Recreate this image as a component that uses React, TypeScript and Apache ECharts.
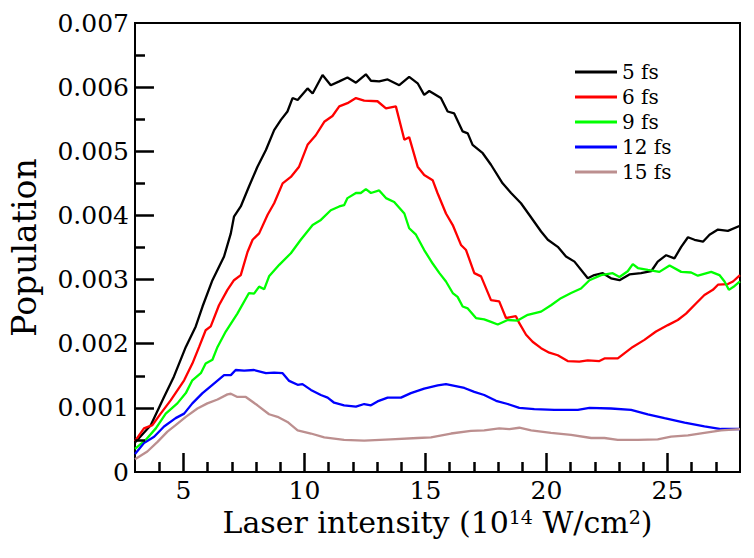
import React, { useEffect, useRef } from "react";
import * as echarts from "echarts";

const seriesNames = ["5 fs", "6 fs", "9 fs", "12 fs", "15 fs"];
const seriesColors = ["#000000", "#ff0000", "#00ff00", "#0000ff", "#bc8f8f"];

const xMin = 3;
const xMax = 28;
const yMin = 0;
const yMax = 0.007;
const xMajorTicks = [5, 10, 15, 20, 25];
const xMinorTicks = [4, 6, 7, 8, 9, 11, 12, 13, 14, 16, 17, 18, 19, 21, 22, 23, 24, 26, 27];
const yMajorTicks = [0.001, 0.002, 0.003, 0.004, 0.005, 0.006];
const yMinorTicks = [0.0005, 0.0015, 0.0025, 0.0035, 0.0045, 0.0055, 0.0065];

const fs5: number[][] = [
  [3.0, 0.00046], [3.65, 0.00073], [4.2, 0.00117], [4.61, 0.00149], [5.1, 0.00195], [5.51, 0.00227],
  [5.79, 0.00258], [6.2, 0.00299], [6.68, 0.00336], [6.96, 0.00372], [7.09, 0.00398], [7.37, 0.00414],
  [7.71, 0.00445], [8.06, 0.00476], [8.41, 0.00502], [8.75, 0.00533], [9.03, 0.00549], [9.3, 0.00562],
  [9.51, 0.00583], [9.72, 0.0058], [10.13, 0.00598], [10.34, 0.0059], [10.75, 0.00619], [11.09, 0.00603],
  [11.44, 0.00609], [11.78, 0.00615], [12.13, 0.00607], [12.54, 0.0062], [12.75, 0.0061], [13.09, 0.00609],
  [13.44, 0.00612], [13.92, 0.00603], [14.33, 0.00616], [14.68, 0.00606], [14.95, 0.00588], [15.16, 0.00594],
  [15.64, 0.00583], [15.92, 0.00562], [16.19, 0.00559], [16.54, 0.00531], [16.75, 0.00528], [16.95, 0.0051],
  [17.37, 0.00497], [17.71, 0.00479], [18.19, 0.0045], [18.54, 0.00435], [18.95, 0.00419], [19.29, 0.00401],
  [19.78, 0.00375], [20.06, 0.00362], [20.47, 0.00351], [20.81, 0.00336], [21.16, 0.00328], [21.71, 0.00302],
  [21.98, 0.00307], [22.33, 0.0031], [22.67, 0.00302], [23.02, 0.00299], [23.43, 0.00308], [23.91, 0.0031],
  [24.33, 0.00313], [24.6, 0.00328], [24.95, 0.00338], [25.29, 0.00333], [25.57, 0.00351], [25.85, 0.00366],
  [26.12, 0.00362], [26.47, 0.00359], [26.74, 0.0037], [27.09, 0.00378], [27.5, 0.00376], [28.0, 0.00384],
];

const fs6: number[][] = [
  [3.0, 0.00048], [3.37, 0.00068], [3.72, 0.00073], [4.06, 0.00091], [4.48, 0.00112], [5.03, 0.00143],
  [5.37, 0.00169], [5.65, 0.00195], [5.92, 0.00221], [6.13, 0.00227], [6.47, 0.0026], [6.82, 0.00284],
  [7.09, 0.00299], [7.37, 0.00307], [7.65, 0.00343], [7.86, 0.00362], [8.13, 0.00372], [8.48, 0.00401],
  [8.75, 0.00419], [9.1, 0.0045], [9.44, 0.0046], [9.78, 0.00476], [10.13, 0.0051], [10.47, 0.00525],
  [10.82, 0.00546], [11.16, 0.00555], [11.44, 0.0057], [11.78, 0.00575], [12.13, 0.00583], [12.47, 0.00579],
  [13.02, 0.00578], [13.37, 0.00567], [13.78, 0.0057], [14.13, 0.00518], [14.33, 0.00522], [14.68, 0.00476],
  [14.95, 0.00463], [15.3, 0.00455], [15.5, 0.00435], [15.85, 0.00403], [16.13, 0.00385], [16.47, 0.00354],
  [16.68, 0.00346], [17.02, 0.0031], [17.3, 0.00305], [17.71, 0.00268], [18.05, 0.00266], [18.33, 0.0024],
  [18.74, 0.00243], [18.88, 0.00232], [19.16, 0.00214], [19.43, 0.00203], [19.78, 0.00193], [20.12, 0.00186],
  [20.47, 0.00182], [20.88, 0.00173], [21.36, 0.00172], [21.71, 0.00174], [22.19, 0.00173], [22.4, 0.00177],
  [22.95, 0.00177], [23.22, 0.00185], [23.57, 0.00195], [24.05, 0.00206], [24.53, 0.00219], [25.02, 0.00229],
  [25.43, 0.00237], [25.77, 0.00247], [26.19, 0.00263], [26.53, 0.00276], [26.88, 0.00284], [27.09, 0.00292],
  [27.5, 0.00293], [27.71, 0.00297], [28.0, 0.00307],
];

const fs9: number[][] = [
  [3.0, 0.00036], [3.44, 0.0005], [3.86, 0.00068], [4.27, 0.00091], [4.75, 0.00107], [5.1, 0.00123],
  [5.37, 0.00143], [5.72, 0.00154], [5.92, 0.00169], [6.2, 0.00175], [6.41, 0.00195], [6.75, 0.00219],
  [7.23, 0.00247], [7.71, 0.00279], [7.92, 0.00278], [8.13, 0.00289], [8.34, 0.00285], [8.54, 0.00305],
  [8.96, 0.00323], [9.44, 0.00341], [9.85, 0.00362], [10.34, 0.00385], [10.68, 0.00393], [11.09, 0.00408],
  [11.44, 0.00414], [11.64, 0.00416], [11.78, 0.00427], [12.13, 0.00435], [12.33, 0.00435], [12.54, 0.00441],
  [12.75, 0.00435], [13.09, 0.00439], [13.37, 0.00427], [13.71, 0.00421], [14.13, 0.00403], [14.33, 0.0038],
  [14.61, 0.0037], [14.95, 0.00346], [15.3, 0.00325], [15.58, 0.0031], [15.85, 0.00297], [16.13, 0.00279],
  [16.33, 0.00273], [16.54, 0.00258], [16.75, 0.00255], [17.09, 0.0024], [17.43, 0.00238], [17.71, 0.00234],
  [17.99, 0.0023], [18.4, 0.00237], [18.81, 0.00236], [19.23, 0.00245], [19.78, 0.0025], [20.19, 0.0026],
  [20.6, 0.00271], [21.02, 0.00279], [21.43, 0.00286], [21.78, 0.00299], [22.26, 0.00307], [22.74, 0.0031],
  [23.02, 0.00304], [23.36, 0.00313], [23.57, 0.00324], [23.78, 0.00318], [24.19, 0.00315], [24.67, 0.00312],
  [25.09, 0.00322], [25.57, 0.00312], [25.98, 0.00311], [26.26, 0.00306], [26.81, 0.00312], [27.15, 0.00307],
  [27.36, 0.00297], [27.54, 0.00284], [27.78, 0.0029], [28.0, 0.00297],
];

const fs12: number[][] = [
  [3.0, 0.00028], [3.37, 0.00045], [3.79, 0.00055], [4.2, 0.00071], [4.68, 0.00084], [5.03, 0.00091],
  [5.37, 0.00107], [5.79, 0.00123], [6.2, 0.00136], [6.68, 0.00151], [6.96, 0.00151], [7.16, 0.00159],
  [7.51, 0.00158], [7.92, 0.00159], [8.41, 0.00154], [8.75, 0.00155], [9.1, 0.00154], [9.37, 0.00142],
  [9.72, 0.00136], [9.92, 0.00137], [10.27, 0.00128], [10.68, 0.0012], [10.96, 0.00116], [11.23, 0.00108],
  [11.64, 0.00104], [12.13, 0.00102], [12.47, 0.00106], [12.75, 0.00104], [13.02, 0.0011], [13.44, 0.00116],
  [13.99, 0.00116], [14.4, 0.00123], [14.95, 0.0013], [15.51, 0.00135], [15.85, 0.00137], [16.61, 0.00131],
  [17.02, 0.00125], [17.43, 0.0012], [17.92, 0.00111], [18.4, 0.00106], [18.88, 0.001], [19.5, 0.00098],
  [20.33, 0.00097], [21.3, 0.00097], [21.78, 0.001], [22.67, 0.00099], [23.5, 0.00097], [24.19, 0.0009],
  [24.88, 0.00084], [25.71, 0.00077], [26.53, 0.00071], [27.22, 0.00067], [28.0, 0.00067],
];

const fs15: number[][] = [
  [3.0, 0.0002], [3.51, 0.00032], [3.93, 0.00047], [4.34, 0.00063], [4.68, 0.00073], [5.1, 0.00086],
  [5.58, 0.00099], [5.99, 0.00107], [6.41, 0.00113], [6.82, 0.00121], [6.96, 0.00122], [7.23, 0.00117],
  [7.58, 0.00117], [8.06, 0.00104], [8.54, 0.0009], [8.89, 0.00086], [9.3, 0.00078], [9.72, 0.00065],
  [10.27, 0.0006], [10.82, 0.00054], [11.64, 0.0005], [12.47, 0.00049], [13.57, 0.00051], [14.68, 0.00053],
  [15.23, 0.00054], [16.06, 0.0006], [16.88, 0.00064], [17.43, 0.00065], [18.05, 0.00068], [18.47, 0.00067],
  [18.88, 0.00069], [19.37, 0.00065], [20.19, 0.00061], [21.02, 0.00058], [21.85, 0.00053], [22.4, 0.00053],
  [22.95, 0.0005], [23.78, 0.0005], [24.6, 0.00051], [25.15, 0.00055], [25.85, 0.00057], [26.53, 0.00061],
  [27.22, 0.00065], [28.0, 0.00067],
];

const allSeries = [fs5, fs6, fs9, fs12, fs15];

const FONT = "DejaVu Serif";

// layout (pixels)
const W = 754;
const H = 558;
const G_LEFT = 134;
const G_RIGHT = 14;
const G_TOP = 23;
const G_BOTTOM = 86;
const MAJOR_LEN_PX = 19;
const MINOR_LEN_PX = 10;
const plotW = W - G_LEFT - G_RIGHT;
const plotH = H - G_TOP - G_BOTTOM;
const xPerPx = (xMax - xMin) / plotW;
const yPerPx = (yMax - yMin) / plotH;

// inward tick marks, drawn as mark lines of the first series (in data coordinates)
function tickMarkLines(): any[] {
  const out: any[] = [];
  xMajorTicks.forEach((v) => out.push([{ coord: [v, yMin] }, { coord: [v, yMin + MAJOR_LEN_PX * yPerPx] }]));
  xMinorTicks.forEach((v) => out.push([{ coord: [v, yMin] }, { coord: [v, yMin + MINOR_LEN_PX * yPerPx] }]));
  yMajorTicks.forEach((v) => out.push([{ coord: [xMin, v] }, { coord: [xMin + MAJOR_LEN_PX * xPerPx, v] }]));
  yMinorTicks.forEach((v) => out.push([{ coord: [xMin, v] }, { coord: [xMin + MINOR_LEN_PX * xPerPx, v] }]));
  return out;
}

export default function App() {
  const ref = useRef<HTMLDivElement>(null);

  useEffect(() => {
    if (!ref.current) return;
    const chart = echarts.init(ref.current, null, { renderer: "svg" });
    const option: any = {
      animation: false,
      backgroundColor: "#ffffff",
      grid: {
        left: G_LEFT,
        right: G_RIGHT,
        top: G_TOP,
        bottom: G_BOTTOM,
        show: true,
        borderColor: "#000000",
        borderWidth: 2,
      },
      legend: {
        orient: "vertical",
        left: 570,
        top: 57,
        icon: "rect",
        itemWidth: 42,
        itemHeight: 3,
        itemGap: 5,
        data: seriesNames,
        textStyle: { fontFamily: FONT, fontSize: 20, color: "#000", lineHeight: 20 },
      },
      xAxis: {
        type: "value",
        min: xMin,
        max: xMax,
        name: "{m|Laser intensity (10}{s|14}{m| W/cm}{s|2}{m|)}",
        nameLocation: "middle",
        nameGap: 33,
        nameTextStyle: {
          rich: {
            m: { fontFamily: FONT, fontSize: 30, color: "#000", lineHeight: 30 },
            s: { fontFamily: FONT, fontSize: 19, color: "#000", lineHeight: 19, verticalAlign: "top" },
          },
        },
        axisLine: { show: true, onZero: false, lineStyle: { color: "#000", width: 2 } },
        axisTick: { show: false },
        axisLabel: {
          show: true,
          showMinLabel: false,
          showMaxLabel: false,
          fontFamily: FONT,
          fontSize: 25,
          color: "#000",
          margin: 6,
        },
        splitLine: { show: false },
      },
      yAxis: {
        type: "value",
        min: yMin,
        max: yMax,
        interval: 0.001,
        name: "Population",
        nameLocation: "middle",
        nameGap: 94,
        nameTextStyle: { fontFamily: FONT, fontSize: 33, color: "#000" },
        axisLine: { show: true, onZero: false, lineStyle: { color: "#000", width: 2 } },
        axisTick: { show: false },
        axisLabel: {
          fontFamily: FONT,
          fontSize: 25,
          color: "#000",
          margin: 6,
          formatter: (v: number) => (Math.abs(v) < 1e-12 ? "0" : v.toFixed(3)),
        },
        splitLine: { show: false },
      },
      series: allSeries.map((d, i) => ({
        name: seriesNames[i],
        type: "line",
        data: d,
        symbol: "none",
        showSymbol: false,
        smooth: false,
        z: 3,
        lineStyle: { color: seriesColors[i], width: 2.3 },
        itemStyle: { color: seriesColors[i] },
        markLine:
          i === 0
            ? {
                silent: true,
                symbol: ["none", "none"],
                label: { show: false },
                emphasis: { disabled: true },
                lineStyle: { color: "#000000", width: 2.5, type: "solid" },
                data: tickMarkLines(),
              }
            : undefined,
      })),
    };
    chart.setOption(option);
    return () => chart.dispose();
  }, []);

  return <div ref={ref} style={{ position: "fixed", left: 0, top: 0, width: W, height: H }} />;
}
